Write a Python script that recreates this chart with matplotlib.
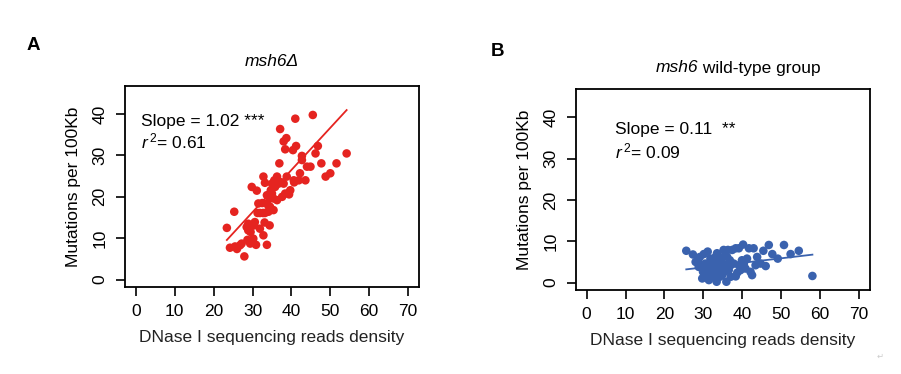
import numpy as np
import matplotlib
matplotlib.use("Agg")
import matplotlib.pyplot as plt

plt.rcParams["font.family"] = ["Liberation Sans", "DejaVu Sans"]
plt.rcParams["mathtext.fontset"] = "custom"
plt.rcParams["mathtext.rm"] = "Liberation Sans"
plt.rcParams["mathtext.it"] = "Liberation Sans:italic"

# panel A: msh6 delta
a_x = [23.4, 25.3, 24.2, 25.5, 26.8, 27.9, 29.4, 30.9, 30.2, 28.9, 28.9, 30.6, 28.5, 31.9,
       32.8, 33.7, 34.4, 33.1, 29.8, 31.1, 31.5, 32.8, 33.2, 31.9, 33.2, 34.1, 33.7, 34.5,
       33.7, 35.0, 35.4, 35.0, 35.8, 36.7, 36.3, 37.6, 38.4, 37.1, 38.0, 38.8, 39.7, 39.4,
       36.9, 37.1, 38.0, 38.7, 38.4, 40.4, 41.0, 41.2, 40.6, 41.9, 42.2, 42.7, 42.7, 43.6,
       44.0, 44.9, 45.5, 46.2, 46.8, 47.7, 48.8, 50.0, 51.6, 54.2, 40.7, 35.6, 36.3, 34.7,
       34.4, 32.5, 31.3, 30.4, 29.5, 28.7, 27.2, 26.0, 32.7, 35.4, 34.1]
a_y = [12.5, 16.4, 7.7, 8.0, 8.3, 5.6, 8.7, 8.4, 9.9, 11.9, 13.5, 13.9, 12.7, 12.3,
       10.7, 8.4, 13.1, 13.8, 22.4, 21.5, 18.4, 24.9, 23.4, 16.1, 16.1, 16.4, 18.4, 17.6,
       20.4, 20.8, 19.6, 23.2, 22.4, 23.2, 19.2, 20.0, 20.8, 23.6, 23.2, 24.9, 21.6, 20.6,
       28.1, 36.4, 33.4, 34.2, 31.5, 31.3, 38.9, 32.3, 24.0, 24.0, 25.7, 28.9, 29.9, 24.0,
       27.3, 27.3, 39.8, 30.5, 32.3, 28.1, 24.9, 25.7, 28.1, 30.5, 23.5, 24.0, 24.9, 21.6,
       19.6, 18.5, 16.1, 13.1, 11.5, 9.6, 8.7, 7.4, 16.1, 16.8, 17.8]
a_fit = [-14.3, 1.02]  # intercept, slope

# panel B: msh6 wild-type group
b_x = [25.6, 27.3, 28.0, 28.8, 29.7, 30.1, 30.5, 31.0, 31.4, 31.8, 32.2, 32.7, 33.1, 33.4,
       33.5, 34.0, 34.4, 34.8, 35.2, 35.7, 35.9, 36.1, 36.5, 37.0, 37.4, 37.8, 38.3, 38.7,
       39.1, 39.1, 40.2, 40.4, 40.8, 41.2, 41.7, 42.1, 42.5, 42.9, 43.4, 43.8, 44.7, 45.4,
       46.0, 46.8, 47.7, 49.1, 50.7, 52.4, 54.5, 58.0, 28.6, 29.2, 29.9, 31.1, 32.5, 32.8,
       33.8, 34.5, 35.1, 35.4, 36.8, 39.5, 39.9, 36.3, 30.1, 31.6, 29.1, 33.1, 34.2, 31.4,
       38.3, 37.0]
b_y = [7.7, 6.8, 5.0, 3.8, 1.0, 6.9, 4.6, 3.0, 1.8, 5.8, 4.2, 2.6, 1.0, 0.2,
       7.1, 5.0, 3.4, 1.8, 7.9, 4.2, 0.2, 6.2, 3.0, 1.4, 7.9, 4.6, 8.3, 2.4,
       4.2, 8.3, 9.2, 4.6, 3.4, 5.8, 8.3, 2.6, 1.8, 8.3, 4.2, 6.2, 4.6, 7.7,
       4.0, 9.1, 6.9, 5.8, 9.1, 6.9, 7.7, 1.6, 5.4, 4.2, 2.6, 7.5, 5.4, 4.2,
       3.0, 5.4, 6.2, 2.6, 5.4, 3.0, 5.4, 7.9, 3.8, 4.2, 6.2, 6.2, 1.4, 0.6,
       1.5, 4.2]
b_fit = [0.38, 0.11]

x_ticks = [0, 10, 20, 30, 40, 50, 60, 70]
y_ticks = [0, 10, 20, 30, 40]


def style_axes(ax):
    ax.set_xlim(-2.8, 72.8)
    ax.set_ylim(-1.8, 46.8)
    ax.set_xticks(x_ticks)
    ax.set_yticks(y_ticks)
    for s in ax.spines.values():
        s.set_linewidth(1.3)
    ax.tick_params(direction="out", length=6.5, width=1.2, labelsize=12.5, pad=6)
    plt.setp(ax.get_yticklabels(), rotation=90, va="center")
    ax.set_xlabel("DNase I sequencing reads density", fontsize=12.5, labelpad=8, color="#222222")
    ax.set_ylabel("Mutations per 100Kb", fontsize=12.5, labelpad=8)


fig = plt.figure(figsize=(9.01, 3.74), dpi=100)
ax1 = fig.add_axes([0.1387, 0.2326, 0.3263, 0.5374])
ax2 = fig.add_axes([0.639, 0.2246, 0.3266, 0.5366])

red = "#E52420"
blue = "#3A62AE"

ax1.scatter(a_x, a_y, s=38, color=red, edgecolors="none", zorder=3)
xx = np.array([min(a_x), max(a_x)])
ax1.plot(xx, a_fit[0] + a_fit[1] * xx, color=red, lw=1.3, zorder=2)
style_axes(ax1)
ax1.text(1.4, 38.2, "Slope = 1.02 ***", fontsize=12.5, va="center")
ax1.text(1.4, 33.3, r"$r^{\,2}$= 0.61", fontsize=12.5, va="center")

ax2.scatter(b_x, b_y, s=38, color=blue, edgecolors="none", zorder=3)
xx = np.array([min(b_x), max(b_x)])
ax2.plot(xx, b_fit[0] + b_fit[1] * xx, color=blue, lw=1.3, zorder=2)
style_axes(ax2)
ax2.text(7.4, 37.1, "Slope = 0.11  **", fontsize=12.5, va="center")
ax2.text(7.4, 31.8, r"$r^{\,2}$= 0.09", fontsize=12.5, va="center")

# titles and panel letters
fig.text(272 / 901, 1 - 62 / 374, "msh6\u0394", fontsize=12.5, style="italic", ha="center", va="center")
t1 = fig.text(656 / 901, 1 - 68 / 374, "msh6", fontsize=12.5, style="italic", ha="left", va="center")
ax2.annotate(" wild-type group", xy=(1.0, 0.0), xycoords=t1, fontsize=12.5,
             ha="left", va="bottom", annotation_clip=False)
fig.text(33 / 901, 1 - 45 / 374, "A", fontsize=13.5, weight="bold", ha="center", va="center")
fig.text(497 / 901, 1 - 52 / 374, "B", fontsize=13.5, weight="bold", ha="center", va="center")
fig.text(880 / 901, 1 - 356 / 374, "\u21b5", fontsize=6, color="#cccccc", ha="center", va="center",
         family="DejaVu Sans")

fig.savefig("out.png", dpi=100)
